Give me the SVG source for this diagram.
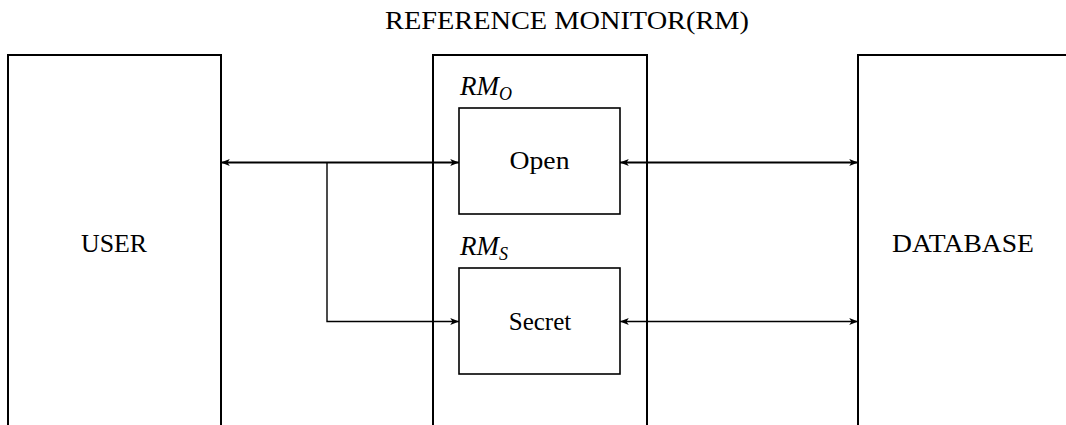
<svg xmlns="http://www.w3.org/2000/svg" width="1066" height="425" viewBox="0 0 1066 425">
  <style>
    .frame { fill: none; stroke: #000; stroke-width: 2; }
    .box { fill: none; stroke: #000; stroke-width: 1.6; }
    .lbl { font-family: "Liberation Serif", "Times New Roman", serif; font-size: 25px; fill: #000; }
    .mid { text-anchor: middle; }
    .it { font-style: italic; }
    .wire { fill: none; stroke: #000; }
    .thick { stroke-width: 2; }
    .thin { stroke-width: 1.4; }
  </style>
  <defs>
    <marker id="head" viewBox="0 0 10 8" refX="10" refY="4" markerWidth="9" markerHeight="7" markerUnits="userSpaceOnUse" orient="auto-start-reverse">
      <path d="M0,0 L10,4 L0,8 L2.5,4 Z" fill="#000"/>
    </marker>
  </defs>

  <text class="lbl mid" x="567" y="29" textLength="364" lengthAdjust="spacingAndGlyphs">REFERENCE MONITOR(RM)</text>

  <g id="user">
    <path class="frame" d="M8,426 V55 H221 V426"/>
    <text class="lbl mid" x="114" y="252" textLength="66" lengthAdjust="spacingAndGlyphs">USER</text>
  </g>

  <g id="monitor">
    <path class="frame" d="M433,426 V55 H647 V426"/>
  </g>

  <g id="open">
    <text class="lbl it" x="460" y="95"><tspan font-size="27">RM</tspan><tspan font-size="18" dy="5">O</tspan></text>
    <rect class="box" x="459" y="108" width="161" height="106"/>
    <text class="lbl mid" x="539.5" y="169" textLength="60" lengthAdjust="spacingAndGlyphs">Open</text>
  </g>

  <g id="secret">
    <text class="lbl it" x="460" y="255"><tspan font-size="27">RM</tspan><tspan font-size="18" dy="5">S</tspan></text>
    <rect class="box" x="459" y="268" width="161" height="106"/>
    <text class="lbl mid" x="540" y="330">Secret</text>
  </g>

  <g id="database">
    <path class="frame" d="M858,426 V55 H1070"/>
    <text class="lbl mid" x="963" y="252" textLength="142" lengthAdjust="spacingAndGlyphs">DATABASE</text>
  </g>

  <g id="connectors">
    <path class="wire thick" d="M221,162.5 H459" marker-start="url(#head)" marker-end="url(#head)"/>
    <path class="wire thin" d="M327,162.5 V321.5 H459" marker-end="url(#head)"/>
    <path class="wire thick" d="M620,162.5 H858" marker-start="url(#head)" marker-end="url(#head)"/>
    <path class="wire thin" d="M620,321.5 H858" marker-start="url(#head)" marker-end="url(#head)"/>
  </g>
</svg>
